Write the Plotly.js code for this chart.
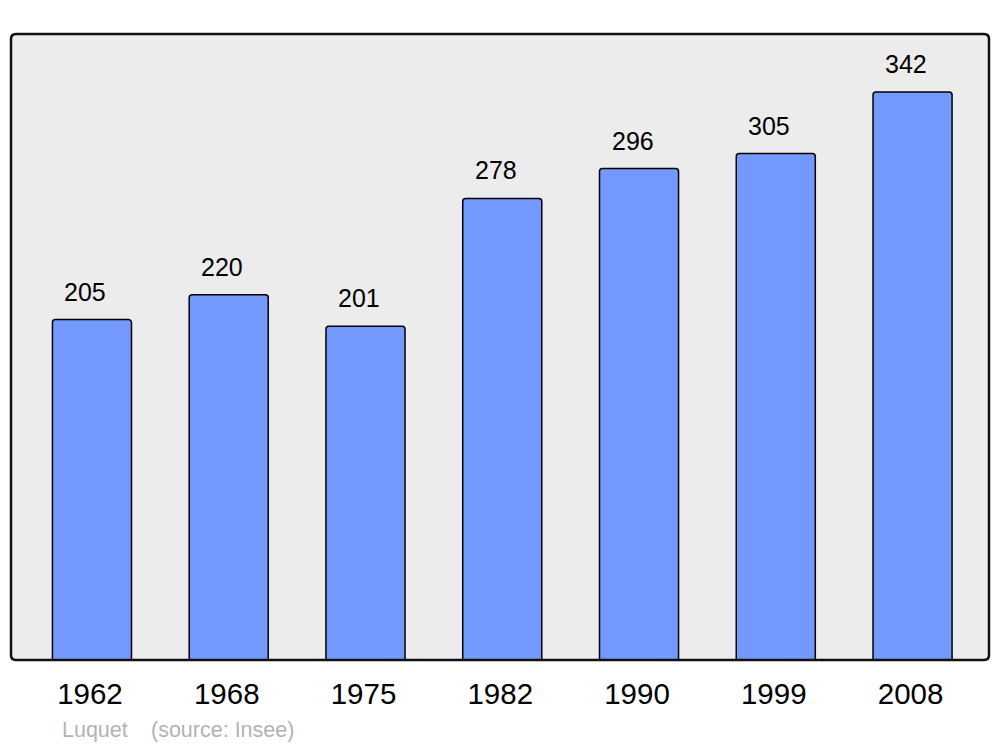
<!DOCTYPE html>
<html>
<head>
<meta charset="utf-8">
<script src="https://cdn.plot.ly/plotly-3.0.1.min.js"></script>
<style>html,body{margin:0;padding:0;background:#fff;}#chart{width:1000px;height:747px;}</style>
</head>
<body>
<div id="chart"></div>
<script>
const years = ["1962", "1968", "1975", "1982", "1990", "1999", "2008"];
const population = [205, 220, 201, 278, 296, 305, 342];
const author = "Luquet";
const source = "(source: Insee)";

const xs = years.map((_, i) => i);
const FONT = "Liberation Sans, Arial, sans-serif";

const trace = {
  type: "bar",
  x: xs,
  y: population,
  width: 0.578,
  marker: {color: "#7399ff", line: {color: "#000", width: 1.5}, cornerradius: 3},
  hoverinfo: "skip"
};

const annotations = population.map((v, i) => ({
  x: i, y: v, xref: "x", yref: "y",
  text: String(v), showarrow: false,
  yanchor: "middle", yshift: 28, xshift: -6.5,
  font: {family: FONT, size: 25, color: "#000"}
}));
annotations.push({
  xref: "paper", yref: "paper", x: (60 - 11) / 978, y: 0, yshift: -70,
  xanchor: "left", yanchor: "middle", showarrow: false, text: author,
  font: {family: FONT, size: 21.5, color: "#b3b3b3"}
});
annotations.push({
  xref: "paper", yref: "paper", x: (149 - 11) / 978, y: 0, yshift: -70,
  xanchor: "left", yanchor: "middle", showarrow: false, text: source,
  font: {family: FONT, size: 21.5, color: "#b3b3b3"}
});

function roundRect(r) {
  const rx = r / 978, ry = r / 626;
  return `M ${rx} 0 L ${1 - rx} 0 Q 1 0 1 ${ry} L 1 ${1 - ry} Q 1 1 ${1 - rx} 1 L ${rx} 1 Q 0 1 0 ${1 - ry} L 0 ${ry} Q 0 0 ${rx} 0 Z`;
}

const layout = {
  width: 1000, height: 747,
  margin: {l: 11, r: 11, t: 34, b: 87, pad: 0},
  paper_bgcolor: "#fff",
  plot_bgcolor: "rgba(0,0,0,0)",
  showlegend: false,
  xaxis: {
    range: [-0.592, 6.559], tickvals: xs, ticktext: years,
    showgrid: false, zeroline: false, showline: false, ticks: "",
    tickfont: {family: FONT, size: 29.5, color: "#000"},
    ticklabelstandoff: 13, ticklabelshift: -2, fixedrange: true
  },
  yaxis: {
    range: [0, 377], showgrid: false, zeroline: false, showline: false,
    showticklabels: false, ticks: "", fixedrange: true
  },
  shapes: [
    {type: "path", xref: "paper", yref: "paper", path: roundRect(5), layer: "below",
     fillcolor: "#ececec", line: {width: 0}},
    {type: "path", xref: "paper", yref: "paper", path: roundRect(5), layer: "above",
     fillcolor: "rgba(0,0,0,0)", line: {color: "#111", width: 2.5}}
  ],
  annotations: annotations
};

Plotly.newPlot("chart", [trace], layout, {displayModeBar: false, staticPlot: true});
</script>
</body>
</html>
